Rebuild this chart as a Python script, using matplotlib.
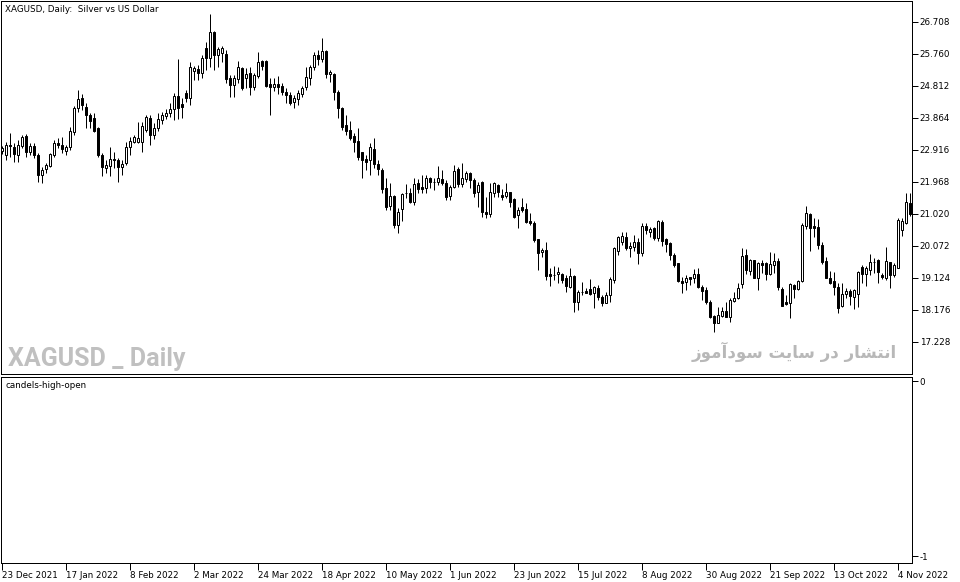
import numpy as np
import matplotlib
matplotlib.use("Agg")
import matplotlib.pyplot as plt

# XAGUSD daily candles, 23 Dec 2021 .. 9 Nov 2022
opens = [22.89, 22.77, 23.07, 23.01, 22.77, 23.04, 23.33, 22.86, 23.04, 22.77,
         22.18, 22.35, 22.44, 22.77, 23.13, 23.07, 22.89, 23.01, 23.45, 24.16,
         24.46, 24.19, 23.95, 23.86, 23.57, 22.77, 22.38, 22.44, 22.65, 22.62,
         22.41, 22.53, 23.01, 23.16, 23.16, 23.16, 23.51, 23.86, 23.36, 23.57,
         23.81, 23.92, 24.01, 24.13, 24.52, 24.28, 24.61, 24.46, 25.26, 25.32,
         25.20, 25.94, 25.64, 26.41, 25.73, 25.79, 25.76, 25.05, 24.84, 25.02,
         25.35, 25.05, 25.20, 24.78, 25.11, 25.55, 25.55, 24.87, 24.78, 24.87,
         24.81, 24.63, 24.55, 24.34, 24.43, 24.58, 24.78, 25.05, 25.38, 25.73,
         25.61, 25.85, 25.17, 25.17, 24.63, 24.16, 23.66, 23.51, 23.33, 23.18,
         22.86, 22.65, 22.62, 22.95, 22.50, 22.32, 21.79, 21.26, 21.55, 20.70,
         21.17, 21.64, 21.64, 21.38, 21.94, 21.82, 21.79, 22.09, 21.97, 21.97,
         22.06, 21.94, 21.55, 21.82, 22.35, 21.91, 22.06, 22.24, 22.03, 21.67,
         21.97, 21.08, 21.02, 21.64, 21.88, 21.58, 21.55, 21.67, 21.46, 20.99,
         21.23, 21.17, 20.81, 20.75, 20.28, 19.89, 19.95, 19.24, 19.21, 19.24,
         19.24, 19.12, 18.86, 19.18, 18.41, 18.71, 18.74, 18.80, 18.68, 18.83,
         18.56, 18.38, 18.62, 19.06, 19.92, 20.19, 20.34, 20.01, 20.04, 20.19,
         19.86, 20.67, 20.49, 20.61, 20.31, 20.78, 20.28, 20.16, 19.80, 19.57,
         19.04, 19.00, 19.14, 19.12, 19.24, 18.86, 18.77, 18.41, 18.00, 17.79,
         18.00, 18.15, 17.97, 18.44, 18.53, 18.95, 19.80, 19.33, 19.66, 19.12,
         19.57, 19.57, 19.24, 19.51, 19.63, 18.80, 18.41, 18.38, 18.92, 18.80,
         19.04, 20.67, 21.02, 20.67, 20.64, 20.10, 19.63, 19.12, 19.04, 18.86,
         18.29, 18.65, 18.74, 18.56, 18.65, 19.45, 19.24, 19.36, 19.60, 19.66,
         19.21, 19.12, 19.60, 19.21, 19.42, 20.55, 20.75, 21.35]
highs = [23.04, 23.16, 23.42, 23.13, 23.21, 23.36, 23.39, 23.13, 23.13, 22.83,
         22.41, 22.53, 22.83, 23.21, 23.27, 23.30, 23.07, 23.60, 24.22, 24.69,
         24.58, 24.31, 24.01, 24.01, 23.60, 22.83, 22.62, 23.01, 22.86, 22.68,
         22.62, 23.16, 23.30, 23.36, 23.75, 23.75, 23.95, 23.95, 23.72, 24.01,
         24.04, 24.13, 24.31, 24.61, 25.61, 24.46, 24.69, 25.52, 25.41, 25.44,
         25.73, 26.11, 26.94, 26.44, 25.97, 26.00, 25.88, 25.14, 25.14, 25.55,
         25.38, 25.35, 25.38, 25.20, 25.82, 25.58, 25.58, 25.05, 25.05, 25.11,
         24.90, 24.75, 24.63, 24.55, 24.69, 24.81, 25.38, 25.44, 25.82, 25.88,
         26.23, 25.88, 25.29, 25.20, 24.69, 24.19, 23.95, 23.78, 23.42, 23.57,
         22.86, 22.77, 23.13, 23.27, 22.62, 22.38, 22.09, 21.94, 21.58, 21.20,
         21.64, 21.91, 21.79, 22.09, 22.06, 22.18, 22.18, 22.12, 22.09, 22.44,
         22.32, 22.03, 21.88, 22.47, 22.41, 22.53, 22.29, 22.27, 22.09, 21.97,
         22.00, 21.52, 21.94, 21.97, 21.91, 21.76, 21.94, 21.67, 21.49, 21.23,
         21.49, 21.35, 21.05, 20.81, 20.28, 20.01, 20.19, 19.42, 19.48, 19.45,
         19.27, 19.21, 19.42, 19.21, 18.77, 19.00, 18.83, 19.09, 18.89, 18.92,
         18.62, 18.71, 19.15, 20.04, 20.37, 20.49, 20.49, 20.19, 20.40, 20.31,
         20.75, 20.75, 20.64, 20.64, 20.84, 20.84, 20.31, 20.19, 19.86, 19.57,
         19.15, 19.21, 19.15, 19.39, 19.42, 18.92, 18.86, 18.47, 18.03, 18.27,
         18.27, 18.41, 18.53, 18.71, 18.98, 20.01, 19.98, 19.69, 19.66, 19.60,
         19.66, 19.60, 19.89, 19.86, 19.72, 18.86, 18.62, 18.98, 18.95, 19.06,
         20.75, 21.26, 21.05, 20.90, 20.87, 20.19, 19.75, 19.33, 19.30, 18.98,
         18.98, 18.83, 18.80, 18.80, 19.33, 19.51, 19.48, 19.84, 19.72, 19.69,
         19.27, 20.04, 19.60, 19.57, 20.90, 20.90, 21.64, 21.64]
lows = [22.80, 22.62, 22.71, 22.56, 22.56, 22.98, 22.71, 22.77, 22.68, 21.97,
        21.94, 22.24, 22.41, 22.71, 22.98, 22.83, 22.77, 22.92, 23.36, 24.04,
        24.10, 23.57, 23.57, 23.45, 22.71, 22.15, 22.24, 22.15, 22.38, 21.97,
        22.18, 22.47, 22.77, 23.13, 23.13, 22.86, 23.45, 23.07, 23.24, 23.48,
        23.69, 23.84, 23.89, 23.81, 23.84, 23.86, 24.34, 24.25, 24.99, 24.99,
        25.05, 25.29, 25.38, 25.29, 25.38, 25.52, 24.90, 24.49, 24.49, 24.90,
        24.69, 24.75, 24.55, 24.69, 25.05, 25.29, 24.78, 23.95, 24.66, 24.58,
        24.55, 24.31, 24.25, 24.16, 24.25, 24.49, 24.69, 24.84, 25.29, 25.44,
        25.52, 25.05, 24.93, 24.40, 23.86, 23.51, 23.36, 23.21, 22.86, 22.62,
        22.09, 22.32, 22.18, 22.38, 22.18, 21.64, 21.14, 21.14, 20.61, 20.46,
        20.81, 21.49, 21.35, 21.29, 21.64, 21.64, 21.64, 21.79, 21.73, 21.88,
        21.88, 21.43, 21.43, 21.79, 21.82, 21.82, 21.97, 21.79, 21.52, 21.23,
        20.93, 20.90, 20.93, 21.52, 21.52, 21.43, 21.49, 21.23, 20.90, 20.61,
        21.08, 20.75, 20.70, 20.19, 19.36, 19.75, 19.06, 18.89, 19.06, 18.98,
        18.98, 18.71, 18.83, 18.12, 18.18, 18.62, 18.68, 18.62, 18.24, 18.47,
        18.29, 18.38, 18.41, 18.98, 19.80, 20.10, 19.95, 19.75, 19.92, 19.54,
        19.77, 20.43, 20.34, 20.25, 20.22, 20.07, 19.89, 19.66, 19.45, 19.00,
        18.68, 18.77, 18.92, 18.98, 18.83, 18.47, 18.35, 17.94, 17.52, 17.79,
        17.97, 17.97, 17.82, 18.41, 18.50, 18.83, 19.24, 19.21, 19.12, 18.77,
        19.27, 19.06, 19.21, 19.27, 18.77, 18.29, 18.32, 17.94, 18.53, 18.77,
        19.00, 20.58, 19.92, 20.34, 19.98, 19.54, 19.12, 18.95, 18.62, 18.09,
        18.27, 18.53, 18.32, 18.21, 18.27, 18.98, 18.89, 19.21, 19.27, 18.98,
        19.09, 19.06, 18.83, 19.15, 19.42, 20.37, 20.72, 20.96]
closes = [22.98, 23.07, 23.04, 22.80, 23.07, 23.30, 22.86, 23.04, 22.77, 22.18,
          22.32, 22.47, 22.80, 23.13, 23.07, 22.95, 23.01, 23.48, 24.16, 24.43,
          24.25, 23.95, 23.78, 23.48, 22.77, 22.41, 22.47, 22.65, 22.62, 22.41,
          22.50, 23.01, 23.18, 23.30, 23.27, 23.63, 23.89, 23.36, 23.57, 23.83,
          23.95, 24.01, 24.13, 24.52, 24.16, 24.19, 24.46, 25.38, 25.35, 25.20,
          25.64, 25.64, 26.41, 25.73, 25.91, 25.94, 25.02, 24.84, 25.05, 25.38,
          24.75, 25.17, 24.78, 25.14, 25.52, 25.41, 24.81, 24.78, 24.87, 24.78,
          24.63, 24.55, 24.31, 24.46, 24.61, 24.75, 25.08, 25.38, 25.73, 25.61,
          25.85, 25.17, 25.23, 24.63, 24.16, 23.60, 23.48, 23.27, 23.16, 22.71,
          22.62, 22.56, 23.01, 22.50, 22.35, 21.76, 21.23, 21.55, 20.70, 21.08,
          21.61, 21.64, 21.38, 21.91, 21.76, 21.76, 22.09, 21.97, 21.97, 22.09,
          21.94, 21.52, 21.82, 22.29, 21.91, 22.09, 22.24, 22.03, 21.64, 21.88,
          21.08, 21.02, 21.67, 21.94, 21.67, 21.52, 21.67, 21.38, 20.93, 21.14,
          21.14, 20.78, 20.75, 20.25, 19.86, 19.95, 19.19, 19.19, 19.21, 19.30,
          19.06, 18.89, 19.18, 18.41, 18.71, 18.71, 18.68, 18.65, 18.86, 18.56,
          18.38, 18.62, 19.09, 20.01, 20.34, 20.37, 20.01, 20.07, 20.19, 19.86,
          20.67, 20.55, 20.58, 20.31, 20.81, 20.22, 20.13, 19.80, 19.51, 19.04,
          18.98, 19.12, 19.10, 19.24, 18.86, 18.74, 18.41, 17.97, 17.79, 18.03,
          18.15, 17.97, 18.47, 18.53, 18.83, 19.78, 19.36, 19.66, 19.12, 19.57,
          19.51, 19.24, 19.54, 19.63, 18.86, 18.29, 18.35, 18.94, 18.80, 19.04,
          20.70, 21.05, 20.61, 20.61, 20.10, 19.60, 19.12, 18.98, 18.86, 18.24,
          18.65, 18.74, 18.59, 18.77, 19.30, 19.24, 19.42, 19.60, 19.61, 19.30,
          19.15, 19.63, 19.21, 19.51, 20.84, 20.81, 21.38, 21.02]

price_ticks = [26.708, 25.760, 24.812, 23.864, 22.916, 21.968, 21.020, 20.072,
               19.124, 18.176, 17.228]
date_labels = ["23 Dec 2021", "17 Jan 2022", "8 Feb 2022", "2 Mar 2022",
               "24 Mar 2022", "18 Apr 2022", "10 May 2022", "1 Jun 2022",
               "23 Jun 2022", "15 Jul 2022", "8 Aug 2022", "30 Aug 2022",
               "21 Sep 2022", "13 Oct 2022", "4 Nov 2022"]
date_ticks = list(range(0, 16 * len(date_labels), 16))

W, H = 960, 582
fs = 6.3
px = 0.72  # one pixel in points

fig = plt.figure(figsize=(W / 100, H / 100), dpi=100)
fig.patch.set_facecolor("white")

ax = fig.add_axes([1 / W, 1 - 374 / H, 911 / W, 373 / H])
ax2 = fig.add_axes([1 / W, 1 - 563 / H, 911 / W, 186 / H])

o = np.array(opens)
h = np.array(highs)
l = np.array(lows)
c = np.array(closes)
x = np.arange(len(o))

# candles: wick first, body on top
ax.vlines(x, l, h, color="black", linewidth=px, zorder=2)
up = c >= o
body_col = np.where(up, "white", "black")
ax.bar(x, np.abs(c - o), bottom=np.minimum(o, c), width=0.5,
       color=body_col, edgecolor="black", linewidth=px, zorder=3)

ax.set_xlim(-0.25, 227.5)
ax.set_ylim(16.28, 27.33)
ax2.set_xlim(-0.25, 227.5)
ax2.set_ylim(-1.04, 0.023)

for a in (ax, ax2):
    for s in a.spines.values():
        s.set_linewidth(px)
        s.set_color("black")
    a.yaxis.tick_right()
    a.tick_params(axis="y", direction="out", length=4, width=px,
                  labelsize=fs, pad=1.5)

ax.set_yticks(price_ticks)
ax.set_yticklabels(["%.3f" % p for p in price_ticks])
ax.set_xticks([])

ax2.set_yticks([0, -1])
ax2.set_yticklabels(["0", "-1"])
ax2.set_xticks(date_ticks)
ax2.set_xticklabels(date_labels, ha="left")
ax2.tick_params(axis="x", direction="out", length=5, width=px,
                labelsize=fs, pad=1)

fig.text(5 / W, 1 - 9 / H, "XAGUSD, Daily:  Silver vs US Dollar",
         fontsize=fs, va="center", ha="left")
fig.text(5 / W, 1 - 385 / H, "candels-high-open",
         fontsize=fs, va="center", ha="left")

# watermarks
wm = fig.text(8 / W, 1 - 366 / H, "XAGUSD _ Daily", fontsize=20,
              fontweight="bold", color="#c0c0c0", ha="left",
              va="baseline", family=["Roboto", "DejaVu Sans"])
# fit it to the width seen in the screenshot (about 177 px)
fig.canvas.draw()
bb = wm.get_window_extent()
wm.set_fontsize(20 * 177 / bb.width)

# Persian text in presentation forms, visual order (no shaping engine here)
fa_text = ("\uFEAF\uFEEE\uFEE3\uFE81\uFEA9\uFEEE\uFEB3 "
           "\uFE96\uFBFE\uFE8E\uFEB3 "
           "\uFEAD\uFEA9 "
           "\uFEAD\uFE8E\uFEB8\uFE98\uFEE7\uFE8D")
fig.text(897 / W, 1 - 358 / H, fa_text, fontsize=12, fontweight="bold",
         color="#b8b8b8", ha="right", va="baseline", family=["DejaVu Sans"])

fig.savefig("out.png", dpi=100, facecolor="white")
